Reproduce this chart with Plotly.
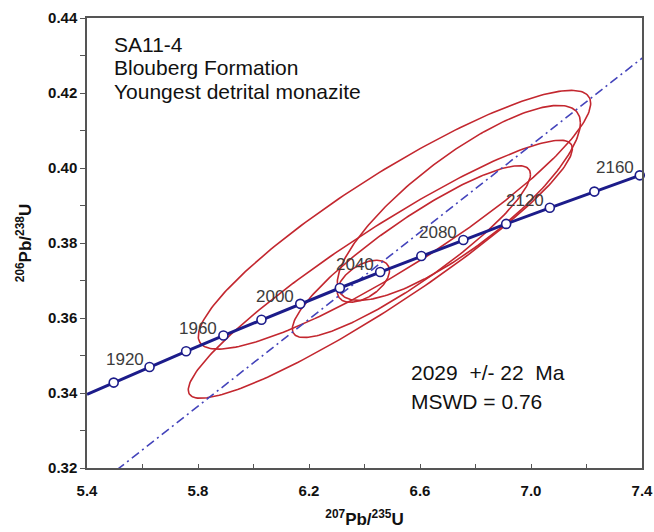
import numpy as np
import plotly.graph_objects as go

# ---------------- data ----------------
# Concordia marker ages (Ma) and their ratios (207Pb/235U, 206Pb/238U)
conc_age = [1900, 1920, 1940, 1960, 1980, 2000, 2020, 2040, 2060, 2080, 2100, 2120, 2140, 2160]
conc_x = [5.4962, 5.6254, 5.7572, 5.8916, 6.0287, 6.1685, 6.3111, 6.4566, 6.6049, 6.7562, 6.9105, 7.0678, 7.2283, 7.3920]
conc_y = [0.34277, 0.34695, 0.35113, 0.35533, 0.35954, 0.36377, 0.36800, 0.37226, 0.37652, 0.38080, 0.38509, 0.38939, 0.39371, 0.39804]
# concordia start at the left axis edge (~1885 Ma)
conc_start_x = 5.40
conc_start_y = 0.33964
label_ages = [1920, 1960, 2000, 2040, 2080, 2120, 2160]

# Discordia (through origin and the 2029 Ma intercept)
disc_x = [0.0, 6.3763]
disc_y = [0.0, 0.36990]

# Analyses: centre, 2-sigma errors and error correlation
ell_x = [6.508, 6.740, 6.569, 6.457, 6.396]
ell_sx = [0.707, 0.438, 0.429, 0.692, 0.094]
ell_y = [0.3862, 0.3907, 0.3777, 0.3730, 0.3698]
ell_sy = [0.0345, 0.0260, 0.0229, 0.0344, 0.0056]
ell_rho = [0.90, 0.82, 0.90, 0.935, 0.50]

x_ticks = [5.4, 5.8, 6.2, 6.6, 7.0, 7.4]
y_ticks = [0.32, 0.34, 0.36, 0.38, 0.40, 0.42, 0.44]

FONT = "Liberation Sans, Arial, sans-serif"
NAVY = "#1c1c8a"
RED = "#c3272f"

fig = go.Figure()

# error ellipses
th = np.linspace(0, 2 * np.pi, 241)
for cx, sx, cy, sy, r in zip(ell_x, ell_sx, ell_y, ell_sy, ell_rho):
    ex = cx + sx * np.cos(th)
    ey = cy + sy * (r * np.cos(th) + np.sqrt(1 - r * r) * np.sin(th))
    fig.add_trace(go.Scatter(x=ex, y=ey, mode="lines",
                             line=dict(color=RED, width=1.6),
                             hoverinfo="skip", showlegend=False))

# discordia line (extend across the plot along the same line)
slope = disc_y[1] / disc_x[1]
dx = [5.4, 7.45]
dy = [slope * v for v in dx]
fig.add_trace(go.Scatter(x=dx, y=dy, mode="lines",
                         line=dict(color="#4444bb", width=1.6, dash="9px,4px,2px,4px"),
                         hoverinfo="skip", showlegend=False))

# concordia
fig.add_trace(go.Scatter(x=[conc_start_x] + conc_x, y=[conc_start_y] + conc_y, mode="lines",
                         line=dict(color=NAVY, width=3),
                         hoverinfo="skip", showlegend=False))
fig.add_trace(go.Scatter(x=conc_x, y=conc_y, mode="markers",
                         marker=dict(symbol="circle", size=9, color="white",
                                     line=dict(color=NAVY, width=1.6)),
                         hoverinfo="skip", showlegend=False, cliponaxis=False))

annotations = []
for a in label_ages:
    i = conc_age.index(a)
    annotations.append(dict(x=conc_x[i], y=conc_y[i], xref="x", yref="y",
                            text=str(a), showarrow=False, xanchor="right", yanchor="bottom",
                            xshift=-4, yshift=-4,
                            font=dict(family=FONT, size=17, color="#3c3c3c")))

title_lines = ["SA11-4", "Blouberg Formation", "Youngest detrital monazite"]
for k, t in enumerate(title_lines):
    annotations.append(dict(x=5.491, y=0.4329 - k * 0.0062, xref="x", yref="y",
                            text=t, showarrow=False, xanchor="left", yanchor="middle",
                            font=dict(family=FONT, size=21, color="#111111")))

res_lines = ["2029  +/- 22  Ma", "MSWD = 0.76"]
for k, t in enumerate(res_lines):
    annotations.append(dict(x=6.559, y=0.3454 - k * 0.0076, xref="x", yref="y",
                            text=t, showarrow=False, xanchor="left", yanchor="middle",
                            font=dict(family=FONT, size=21, color="#111111")))

fig.update_layout(
    width=654, height=532,
    margin=dict(l=87, r=12, t=18, b=64),
    paper_bgcolor="white", plot_bgcolor="white",
    font=dict(family=FONT, color="#111111"),
    annotations=annotations,
    xaxis=dict(range=[5.4, 7.4], tickvals=x_ticks, ticktext=[f"{v:.1f}" for v in x_ticks],
               ticks="inside", ticklen=4, tickcolor="#555555", ticklabelstandoff=8,
               automargin=False,
               minor=dict(dtick=0.2, tick0=5.4, ticks="inside", ticklen=4, tickcolor="#555555"),
               showline=True, linecolor="#555555", linewidth=1.5, mirror=True,
               showgrid=False, zeroline=False,
               tickfont=dict(family=FONT, size=15, color="#111111", weight="bold"),
               title=dict(text="<b><sup>207</sup>Pb/<sup>235</sup>U</b>",
                          font=dict(family=FONT, size=17, color="#111111"), standoff=15)),
    yaxis=dict(range=[0.32, 0.44], tickvals=y_ticks, ticktext=[f"{v:.2f}" for v in y_ticks],
               ticks="outside", ticklen=5, tickcolor="#555555",
               automargin=False,
               minor=dict(dtick=0.01, tick0=0.32, ticks="outside", ticklen=5, tickcolor="#555555"),
               showline=True, linecolor="#555555", linewidth=1.5, mirror=True,
               showgrid=False, zeroline=False,
               tickfont=dict(family=FONT, size=15, color="#111111", weight="bold"),
               title=dict(text="<b><sup>206</sup>Pb/<sup>238</sup>U</b>",
                          font=dict(family=FONT, size=17, color="#111111"), standoff=12)),
)

fig.write_html("out.html")
